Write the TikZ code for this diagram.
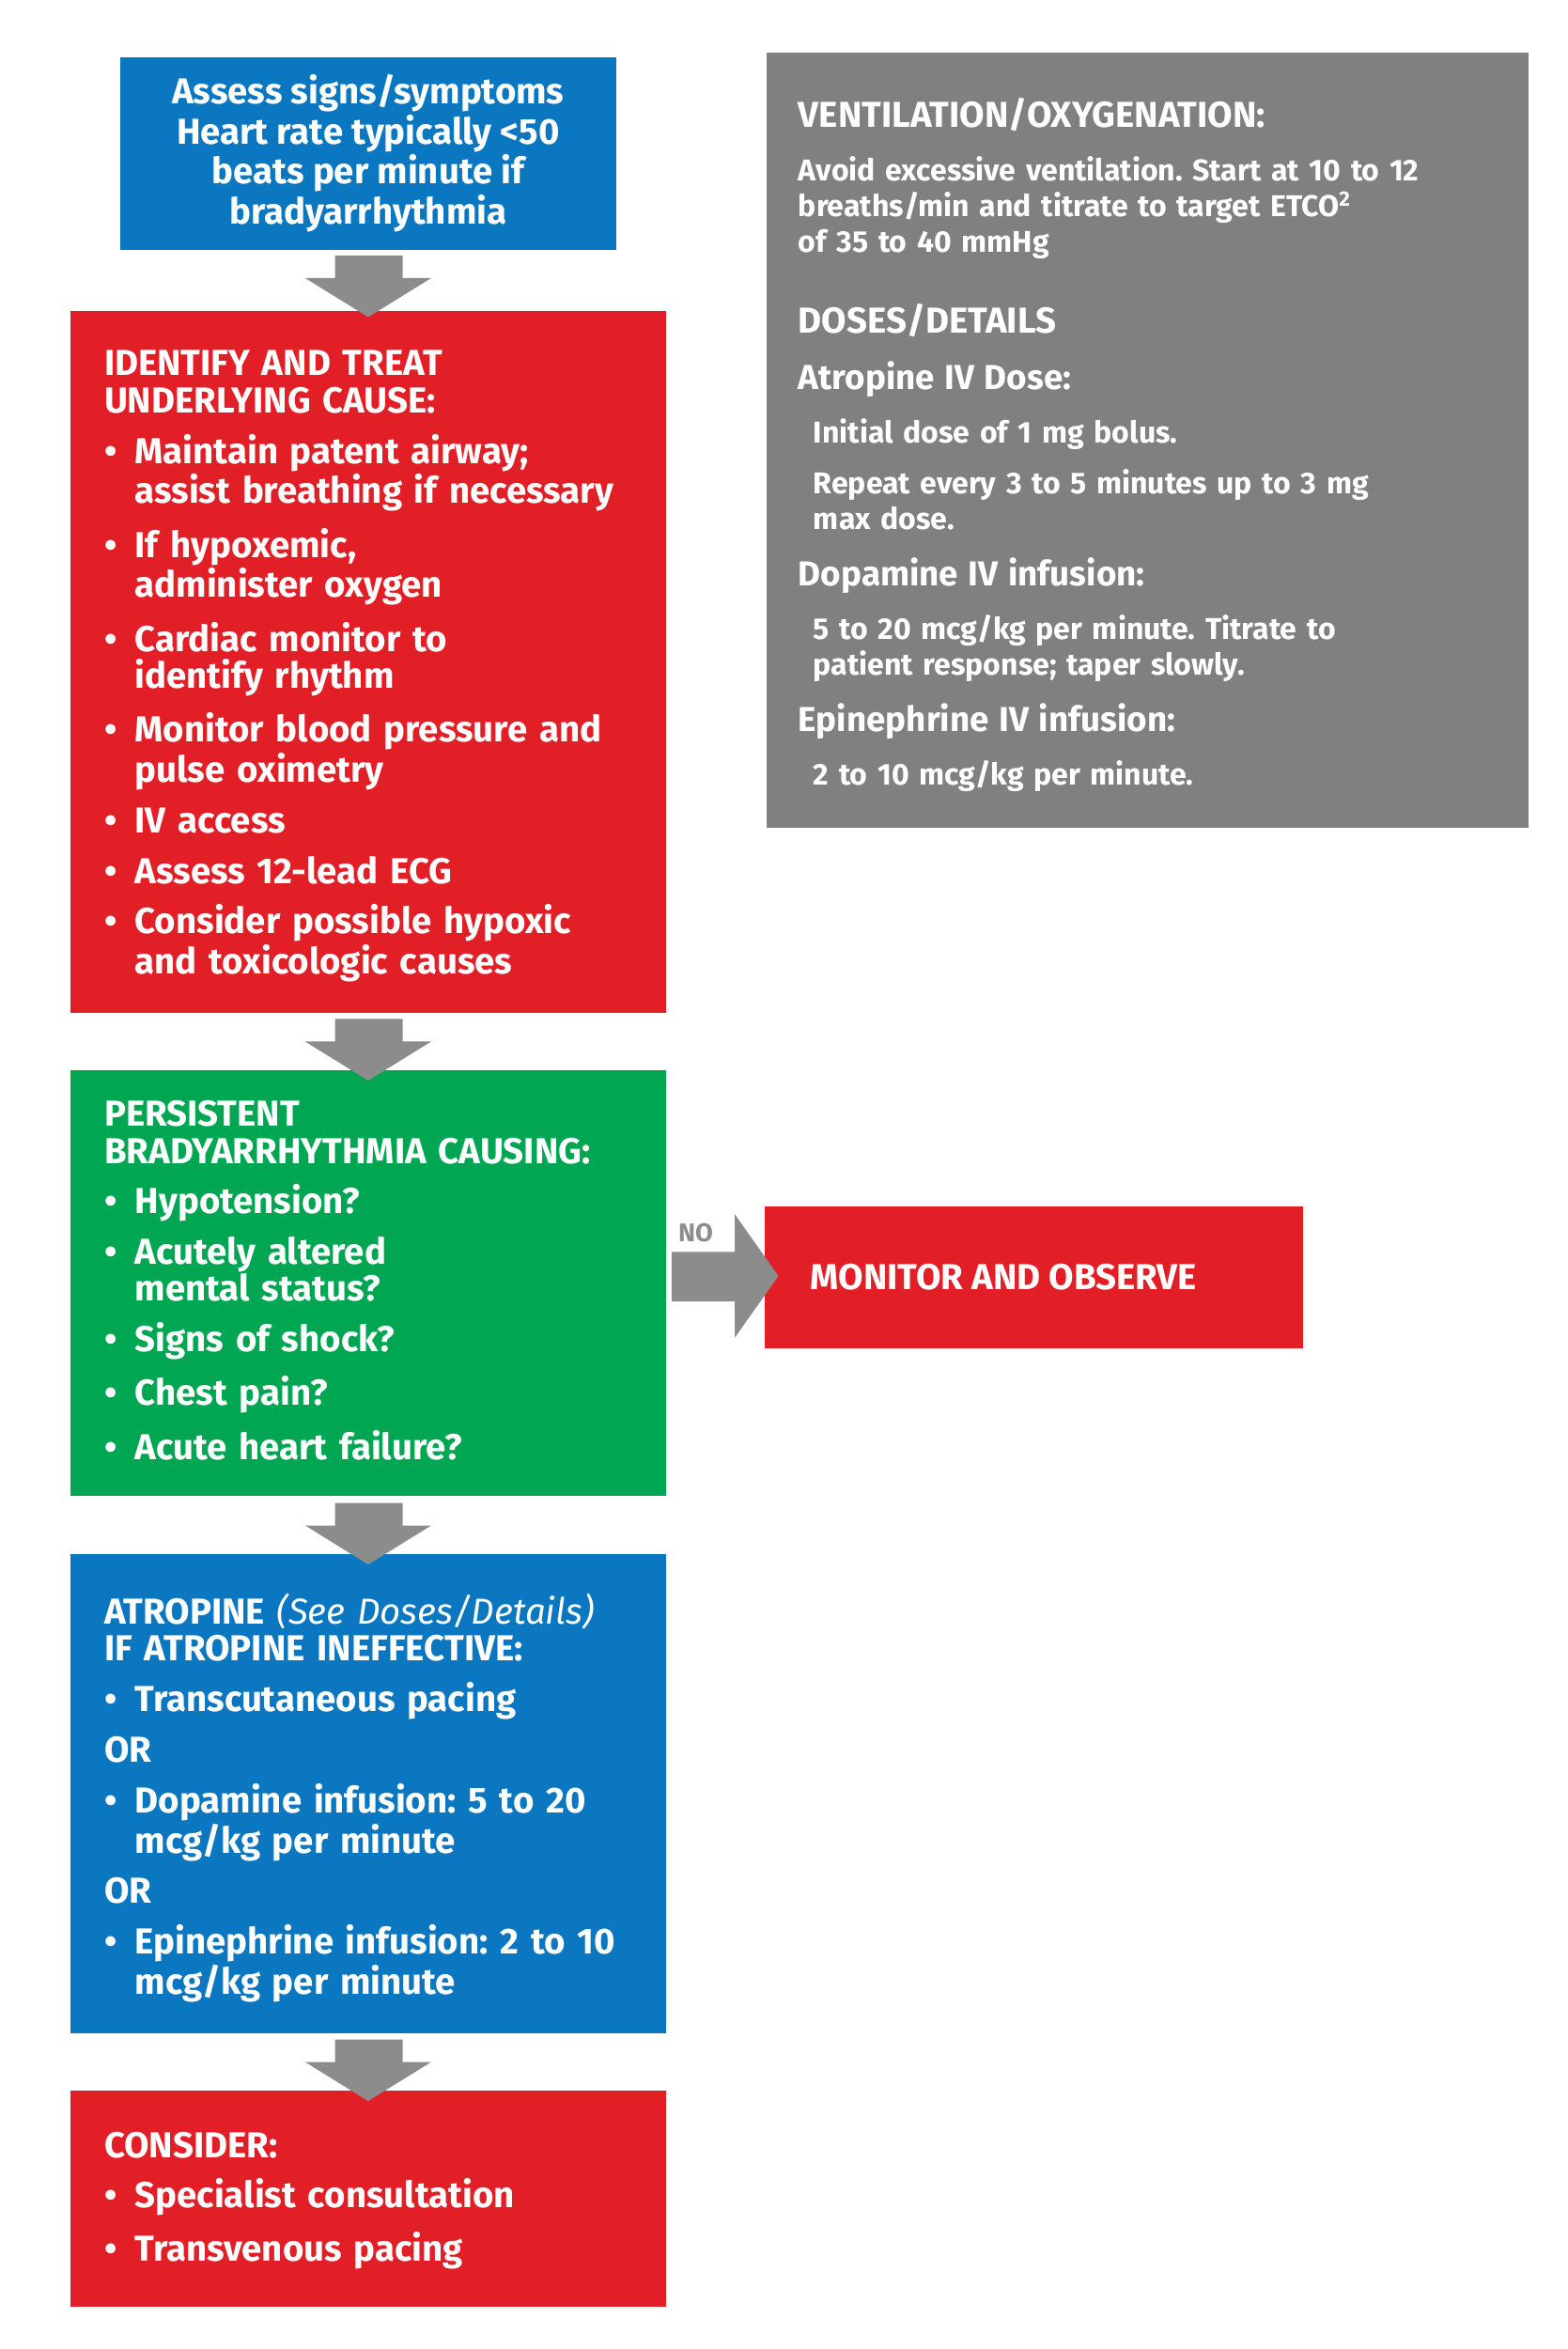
\documentclass[tikz,border=0pt]{standalone}
\usepackage{fontspec}
\setmainfont{Fira Sans}
\usetikzlibrary{positioning}
\definecolor{acblue}{HTML}{0B77C1}
\definecolor{acred}{HTML}{E21F26}
\definecolor{acgreen}{HTML}{00A651}
\definecolor{acgray}{HTML}{808080}
\definecolor{arrgray}{HTML}{8C8C8C}
\frenchspacing
\newcommand\itm[1]{\par\vspace{4.5pt}\hangindent=0.85em\hangafter=1\noindent\makebox[0.85em][l]{\textbullet}#1\par}
\tikzset{
  boxtext/.style={anchor=north west,text=white,align=left,inner sep=0pt,
    font=\fontsize{12}{12.3}\selectfont\bfseries},
  downarr/.style={fill=arrgray,draw=none}
}
\begin{document}
\begin{tikzpicture}[x=0.5pt,y=-0.5pt]
  \useasboundingbox (0,0) rectangle (1043,1563);
  % boxes
  \fill[acblue] (80,38) rectangle (410,166);
  \fill[acred] (47,207) rectangle (443,674);
  \fill[acgreen] (47,712) rectangle (443,995);
  \fill[acblue] (47,1034) rectangle (443,1353);
  \fill[acred] (47,1391) rectangle (443,1535);
  \fill[acgray] (510,35) rectangle (1017,551);
  \fill[acred] (509,803) rectangle (867,897);
  % arrows
  \foreach \y in {170,678,1000,1357}
    \fill[arrgray] (223,\y) -- (268,\y) -- (268,\y+15) -- (287,\y+15) -- (245,\y+41) -- (203,\y+15) -- (223,\y+15) -- cycle;
  \fill[arrgray] (447,833) -- (489,833) -- (489,808) -- (518,849) -- (489,890) -- (489,866) -- (447,866) -- cycle;
  \node[text=arrgray,font=\fontsize{8.5}{9}\selectfont\bfseries] (no) at (463,820) {NO};
  % texts
  \node[boxtext,anchor=center,align=center] (assess) at (245,102)
    {Assess signs/symptoms\\ Heart rate typically <50\\ beats per minute if\\ bradyarrhythmia};
  \node[boxtext,text width=195pt] (treat) at (69,233)
    {IDENTIFY AND TREAT\\UNDERLYING CAUSE:
     \itm{Maintain patent airway;\newline assist breathing if necessary}
     \itm{If hypoxemic,\newline administer oxygen}
     \itm{Cardiac monitor to\newline identify rhythm}
     \itm{Monitor blood pressure and\newline pulse oximetry}
     \itm{IV access}
     \itm{Assess 12-lead ECG}
     \itm{Consider possible hypoxic\newline and toxicologic causes}};
  \node[boxtext,text width=195pt] (persist) at (69,732)
    {PERSISTENT\\BRADYARRHYTHMIA CAUSING:
     \itm{Hypotension?}
     \itm{Acutely altered\newline mental status?}
     \itm{Signs of shock?}
     \itm{Chest pain?}
     \itm{Acute heart failure?}};
  \node[boxtext,text width=195pt] (atropine) at (69,1060)
    {ATROPINE {\mdseries\itshape (See Doses/Details)}\\IF ATROPINE INEFFECTIVE:
     \itm{Transcutaneous pacing}
     \vspace{4.5pt}\noindent OR
     \itm{Dopamine infusion: 5 to 20\newline mcg/kg per minute}
     \vspace{4.5pt}\noindent OR
     \itm{Epinephrine infusion: 2 to 10\newline mcg/kg per minute}};
  \node[boxtext,text width=195pt] (consider) at (69,1418)
    {CONSIDER:
     \itm{Specialist consultation}
     \itm{Transvenous pacing}};
  \node[boxtext,anchor=west] (monitor) at (539,850) {MONITOR AND OBSERVE};
  \node[boxtext,text width=240pt,font=\fontsize{10}{11.8}\selectfont\bfseries] (doses) at (531,65)
    {{\fontsize{12}{13}\selectfont VENTILATION/OXYGENATION:}\par\vspace{6pt}
     Avoid excessive ventilation. Start at 10 to 12\newline breaths/min and titrate to target ETCO\textsuperscript{2}\newline of 35 to 40 mmHg\par\vspace{14pt}
     {\fontsize{12}{13}\selectfont DOSES/DETAILS}\par\vspace{7pt}
     {\fontsize{11.5}{13}\selectfont Atropine IV Dose:}\par\vspace{6pt}
     \leftskip=5pt Initial dose of 1 mg bolus.\par\vspace{5pt}
     Repeat every 3 to 5 minutes up to 3 mg\newline max dose.\par\vspace{7pt}
     \leftskip=0pt{\fontsize{11.5}{13}\selectfont Dopamine IV infusion:}\par\vspace{6pt}
     \leftskip=5pt 5 to 20 mcg/kg per minute. Titrate to\newline patient response; taper slowly.\par\vspace{7pt}
     \leftskip=0pt{\fontsize{11.5}{13}\selectfont Epinephrine IV infusion:}\par\vspace{6pt}
     \leftskip=5pt 2 to 10 mcg/kg per minute.\par};
\end{tikzpicture}
\end{document}
